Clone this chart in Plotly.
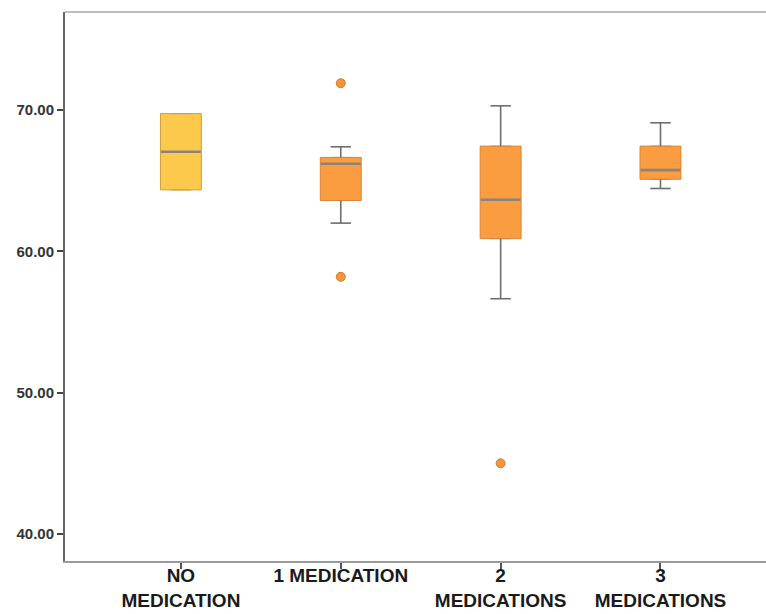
import plotly.graph_objects as go

# Summary statistics per medication group
categories = ["NO<br>MEDICATION", "1 MEDICATION", "2<br>MEDICATIONS", "3<br>MEDICATIONS"]
q1 = [64.35, 63.6, 60.9, 65.1]
median = [67.05, 66.2, 63.65, 65.75]
q3 = [69.75, 66.65, 67.45, 67.45]
lower_whisker = [64.35, 62.0, 56.65, 64.45]
upper_whisker = [69.75, 67.4, 70.3, 69.1]

# Outliers: group index and value
outlier_group = [1, 1, 2]
outlier_value = [71.9, 58.2, 45.0]

y_ticks = [40, 50, 60, 70]

fills = ["#FCC94C", "#F99D40", "#F99D40", "#F99D40"]
edges = ["#C9A040", "#D9863A", "#D9863A", "#D9863A"]
whisker_color = "#6E6E6E"
median_color = "#8A847A"

BOX_W = 0.256
CAP_HALF = 0.064

fig = go.Figure()

for i in range(len(categories)):
    fig.add_trace(go.Box(
        x=[i], q1=[q1[i]], median=[median[i]], q3=[q3[i]],
        lowerfence=[q1[i]], upperfence=[q3[i]],
        width=BOX_W, fillcolor=fills[i],
        line=dict(color=edges[i], width=1),
        boxpoints=False, showlegend=False, hoverinfo="skip",
    ))

# Whiskers with caps, drawn as line segments from the statistics
wx, wy = [], []
for i in range(len(categories)):
    if upper_whisker[i] > q3[i]:
        wx += [i, i, None, i - CAP_HALF, i + CAP_HALF, None]
        wy += [q3[i], upper_whisker[i], None, upper_whisker[i], upper_whisker[i], None]
    if lower_whisker[i] < q1[i]:
        wx += [i, i, None, i - CAP_HALF, i + CAP_HALF, None]
        wy += [q1[i], lower_whisker[i], None, lower_whisker[i], lower_whisker[i], None]
fig.add_trace(go.Scatter(x=wx, y=wy, mode="lines",
                         line=dict(color=whisker_color, width=1.6),
                         showlegend=False, hoverinfo="skip"))

# Median bars
mx, my = [], []
for i in range(len(categories)):
    mx += [i - BOX_W / 2 + 0.004, i + BOX_W / 2 - 0.004, None]
    my += [median[i], median[i], None]
fig.add_trace(go.Scatter(x=mx, y=my, mode="lines",
                         line=dict(color=median_color, width=2.6),
                         showlegend=False, hoverinfo="skip"))

# Outlier points
fig.add_trace(go.Scatter(
    x=outlier_group, y=outlier_value, mode="markers",
    marker=dict(size=9, color="#F5953C", line=dict(color="#D47A2C", width=1)),
    showlegend=False, hoverinfo="skip",
))

fig.update_layout(
    width=766, height=614,
    margin=dict(l=65, r=0, t=12, b=53),
    plot_bgcolor="white", paper_bgcolor="white",
    font=dict(family="Liberation Sans, Arial, sans-serif"),
    xaxis=dict(
        range=[-0.725, 3.66], automargin=False,
        tickmode="array", tickvals=list(range(len(categories))), ticktext=categories,
        ticks="outside", ticklen=6, tickwidth=1.5, tickcolor="#555555",
        ticklabelstandoff=-10,
        showline=True, linecolor="#9A9A9A", linewidth=2,
        showgrid=False, zeroline=False,
        tickfont=dict(family="Liberation Sans, Arial, sans-serif", size=19,
                      color="#1A1A1A", weight="bold"),
    ),
    yaxis=dict(
        range=[38.09, 76.94], automargin=False,
        tickmode="array", tickvals=y_ticks,
        ticktext=[f"{v:.2f}" for v in y_ticks],
        ticks="outside", ticklen=6, tickwidth=1.5, tickcolor="#444444",
        showline=True, linecolor="#666666", linewidth=2,
        showgrid=False, zeroline=False,
        tickfont=dict(family="Liberation Sans, Arial, sans-serif", size=15,
                      color="#333333", weight="bold"),
    ),
    shapes=[dict(type="line", xref="paper", yref="paper", x0=0, x1=1, y0=1, y1=1,
                 line=dict(color="#BDBDBD", width=2))],
)

fig.write_html("out.html")
